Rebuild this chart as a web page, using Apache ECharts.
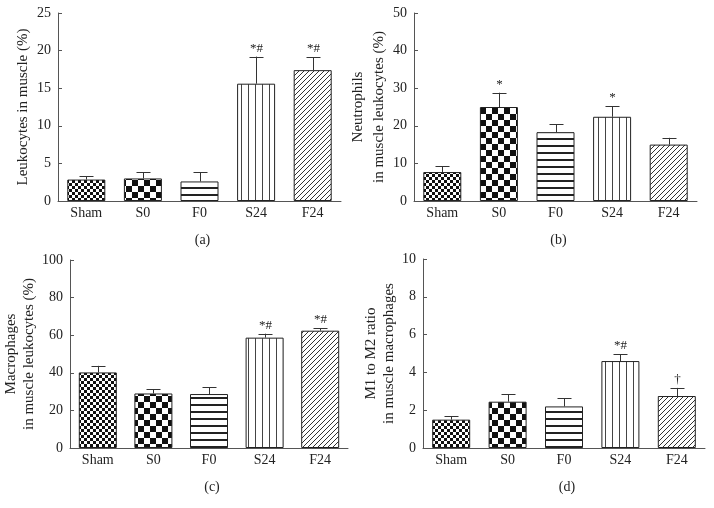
<!DOCTYPE html>
<html><head><meta charset="utf-8">
<script src="https://cdn.jsdelivr.net/npm/echarts@6/dist/echarts.min.js"></script>
<style>html,body{margin:0;padding:0;background:#fff}#c{width:714px;height:508px}</style>
</head><body><div id="c"></div>
<script>
var categories = ['Sham', 'S0', 'F0', 'S24', 'F24'];

var leukocytes = [2.85, 3.0, 2.6, 15.6, 17.4];
var leukocytesErr = [3.3, 3.8, 3.8, 19.2, 19.1];
var leukocytesMarks = ['', '', '', '*#', '*#'];

var neutrophils = [7.7, 25.0, 18.3, 22.4, 15.0];
var neutrophilsErr = [9.2, 28.8, 20.4, 25.2, 16.8];
var neutrophilsMarks = ['', '*', '', '*', ''];

var macrophages = [40.2, 29.0, 28.7, 58.7, 62.4];
var macrophagesErr = [43.7, 31.3, 32.3, 60.8, 63.8];
var macrophagesMarks = ['', '', '', '*#', '*#'];

var m1m2 = [1.5, 2.45, 2.2, 4.6, 2.75];
var m1m2Err = [1.67, 2.85, 2.62, 4.97, 3.18];
var m1m2Marks = ['', '', '', '*#', '\u2020'];

var yMax = [25, 50, 100, 10];
var yInterval = [5, 10, 20, 2];
var yTitles = ['Leukocytes in muscle (%)', 'Neutrophils\nin muscle leukocytes (%)',
               'Macrophages\nin muscle leukocytes (%)', 'M1 to M2 ratio\nin muscle macrophages'];
var panelLabels = ['(a)', '(b)', '(c)', '(d)'];

var FONT = '"Liberation Serif", "DejaVu Serif", serif';

function makeCanvas(w, h, draw) {
  var c = document.createElement('canvas');
  c.width = w; c.height = h;
  var ctx = c.getContext('2d');
  ctx.fillStyle = '#fff'; ctx.fillRect(0, 0, w, h);
  draw(ctx);
  return c;
}
var patFine = makeCanvas(6, 6, function (ctx) {
  ctx.fillStyle = '#111';
  ctx.fillRect(0, 0, 3, 3); ctx.fillRect(3, 3, 3, 3);
});
var patCheck = makeCanvas(12, 12, function (ctx) {
  ctx.fillStyle = '#111';
  ctx.fillRect(0, 0, 6, 6); ctx.fillRect(6, 6, 6, 6);
});
var patHoriz = makeCanvas(8, 7, function (ctx) {
  ctx.fillStyle = '#222';
  ctx.fillRect(0, 5, 8, 2);
});
var patVert = makeCanvas(7, 8, function (ctx) {
  ctx.fillStyle = '#444';
  ctx.fillRect(3, 0, 1, 8);
});
var patDiag = makeCanvas(5, 5, function (ctx) {
  ctx.strokeStyle = '#333'; ctx.lineWidth = 1;
  ctx.beginPath();
  ctx.moveTo(-1, 6); ctx.lineTo(6, -1);
  ctx.moveTo(-1, 1); ctx.lineTo(1, -1);
  ctx.moveTo(4, 6); ctx.lineTo(6, 4);
  ctx.stroke();
});
var patterns = [patFine, patCheck, patHoriz, patVert, patDiag];

var grids = [
  {left: 58, top: 13, width: 283, height: 188},
  {left: 414, top: 13, width: 283, height: 188},
  {left: 70, top: 260, width: 278, height: 188},
  {left: 423, top: 259, width: 282, height: 189}
];
var nameGaps = [22, 18, 27, 20];
var lineHeights = [21, 21, 18, 18];

var values = [leukocytes, neutrophils, macrophages, m1m2];
var errs = [leukocytesErr, neutrophilsErr, macrophagesErr, m1m2Err];
var marks = [leukocytesMarks, neutrophilsMarks, macrophagesMarks, m1m2Marks];

var option = {
  animation: false,
  backgroundColor: '#fff',
  grid: grids.map(function (g) { return Object.assign({containLabel: false}, g); }),
  xAxis: grids.map(function (g, i) {
    return {
      type: 'category', gridIndex: i, data: categories,
      axisLine: {lineStyle: {color: '#555', width: 1}},
      axisTick: {show: false},
      axisLabel: {color: '#222', fontFamily: FONT, fontSize: 14, margin: 5}
    };
  }),
  yAxis: grids.map(function (g, i) {
    return {
      type: 'value', gridIndex: i, min: 0, max: yMax[i], interval: yInterval[i],
      name: yTitles[i], nameLocation: 'middle', nameGap: nameGaps[i], nameRotate: 90,
      nameTextStyle: {color: '#222', fontFamily: FONT, fontSize: 15, lineHeight: lineHeights[i]},
      axisLine: {show: true, lineStyle: {color: '#555', width: 1}},
      axisTick: {show: true, inside: true, length: 4, lineStyle: {color: '#555'}},
      splitLine: {show: false},
      axisLabel: {color: '#222', fontFamily: FONT, fontSize: 14, margin: 7}
    };
  }),
  title: grids.map(function (g, i) {
    return {
      text: panelLabels[i], left: g.left + g.width / 2 - 2, top: g.top + g.height + 27,
      textAlign: 'center',
      textStyle: {fontFamily: FONT, fontSize: 14, fontWeight: 'normal', color: '#222'}
    };
  }),
  series: []
};

values.forEach(function (vals, i) {
  option.series.push({
    type: 'bar', xAxisIndex: i, yAxisIndex: i, barWidth: 38,
    data: vals.map(function (v, k) {
      return {value: v, itemStyle: {color: {image: patterns[k], repeat: 'repeat'}, borderColor: '#222', borderWidth: 1}};
    }),
    z: 2
  });
  option.series.push({
    type: 'custom', xAxisIndex: i, yAxisIndex: i, z: 3,
    data: vals.map(function (v, k) { return [k, v, errs[i][k], marks[i][k]]; }),
    renderItem: function (params, api) {
      var top = api.coord([api.value(0), api.value(1)]);
      var hi = api.coord([api.value(0), api.value(2)]);
      var txt = marks[i][params.dataIndex];
      var x = Math.round(top[0]) + 0.5;
      var children = [
        {type: 'line', shape: {x1: x, y1: top[1], x2: x, y2: hi[1]}, style: {stroke: '#333', lineWidth: 1}},
        {type: 'line', shape: {x1: x - 7, y1: Math.round(hi[1]) + 0.5, x2: x + 7, y2: Math.round(hi[1]) + 0.5}, style: {stroke: '#333', lineWidth: 1}}
      ];
      if (txt) {
        children.push({type: 'text', style: {text: txt.split('').join(' ').replace('* #', '*#'), x: x, y: hi[1] - 2, align: 'center', verticalAlign: 'bottom',
          fontFamily: FONT, fontSize: 13, fill: '#222'}});
      }
      return {type: 'group', children: children};
    }
  });
});

var chart = echarts.init(document.getElementById('c'), null, {renderer: 'canvas'});
chart.setOption(option);
</script>
</body></html>
